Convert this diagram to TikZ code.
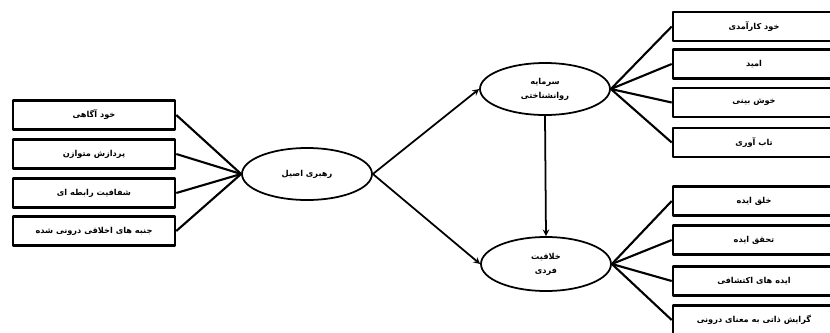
\documentclass[tikz,border=0pt]{standalone}
\usepackage{fontspec}
\newfontfamily\farsi[Script=Arabic,BoldFont={DejaVu Sans Bold}]{DejaVu Sans}
\TeXXeTstate=1
\usetikzlibrary{shapes.geometric}
\newcommand{\R}[1]{\beginR #1\endR}
\begin{document}
\begin{tikzpicture}[x=0.03cm,y=-0.03cm,line join=round,>=stealth,
  font=\farsi\bfseries\fontsize{7}{12}\selectfont,
  ind/.style={draw,line width=2.2pt,minimum width=4.86cm,minimum height=0.87cm,inner sep=0pt},
  lat/.style={draw,ellipse,line width=1.5pt,minimum width=3.9cm,minimum height=1.56cm,inner sep=0pt,align=center}]
\useasboundingbox (0,0) rectangle (830,333);
\clip (0,0) rectangle (830,333);
% latent variables
\node[lat] (al) at (307,174) {\R{رهبری اصیل}};
\node[lat] (pc) at (545,89) {\R{سرمایه}\\\R{روانشناختی}};
\node[lat,minimum height=1.62cm] (cr) at (546,264) {\R{خلاقیت}\\\R{فردی}};
% indicators
\node[ind] (l1) at (94,115) {\R{خود آگاهی}};
\node[ind] (l2) at (94,154) {\R{پردازش متوازن}};
\node[ind] (l3) at (94,193) {\R{شفافیت رابطه ای}};
\node[ind] (l4) at (94,231) {\R{جنبه های اخلاقی درونی شده}};
\node[ind] (p1) at (754,26.5) {\R{خود کارآمدی}};
\node[ind] (p2) at (754,64) {\R{امید}};
\node[ind] (p3) at (754,102.5) {\R{خوش بینی}};
\node[ind] (p4) at (754,142.5) {\R{تاب آوری}};
\node[ind] (c1) at (754,201) {\R{خلق ایده}};
\node[ind] (c2) at (754,240) {\R{تحقق ایده}};
\node[ind] (c3) at (754,281) {\R{ایده های اکتشافی}};
\node[ind] (c4) at (754,320) {\R{گرایش ذاتی به معنای درونی}};
% loadings
\foreach \n in {l1,l2,l3,l4}
  \draw[line width=1.8pt] (al.west) -- (\n.east);
\foreach \n in {p1,p2,p3,p4}
  \draw[line width=1.8pt] (pc.east) -- (\n.west);
\foreach \n in {c1,c2,c3,c4}
  \draw[line width=1.8pt] (cr.east) -- (\n.west);
% paths
\draw[->,line width=1.5pt] (al.east) -- (pc.west);
\draw[->,line width=1.5pt] (al.east) -- (cr.west);
\draw[->,line width=1.5pt] (pc.south) -- (cr.north);
\end{tikzpicture}
\end{document}
